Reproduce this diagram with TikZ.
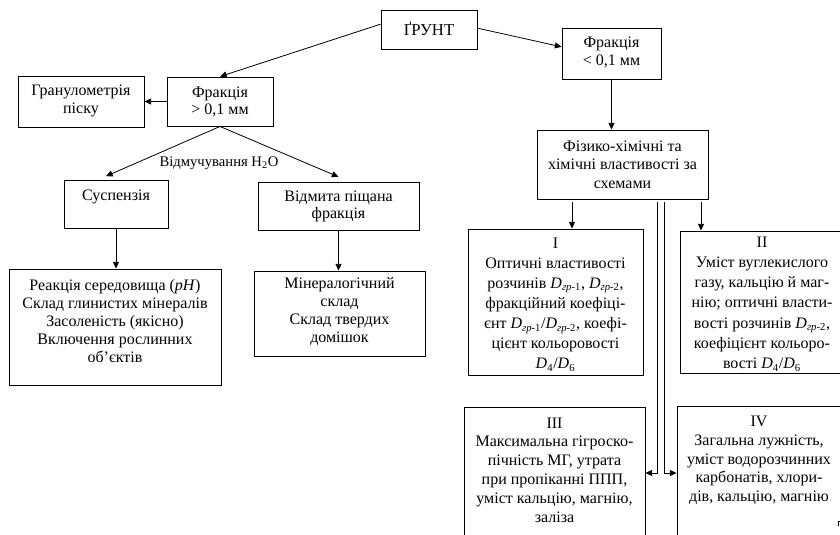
\documentclass[tikz,border=0pt]{standalone}
\usepackage{fontspec}
\setmainfont{Liberation Serif}
\usetikzlibrary{arrows.meta,fit,calc}
\newcommand{\Dg}[1]{\textit{D}\textsubscript{\textit{гр}-#1}}
\begin{document}
\begin{tikzpicture}[x=0.75pt,y=-0.75pt,
  box/.style={draw, line width=0.7pt, inner sep=0pt},
  txt/.style={align=center, inner sep=0pt, font=\fontsize{12}{13.5}\selectfont},
  arr/.style={line width=0.6pt, -{Triangle[length=5pt,width=4.5pt]}},
  ln/.style={line width=0.6pt}]
\useasboundingbox (0,0) rectangle (840,535);
\clip (0,0) rectangle (840,535);
% boxes
\node[box, fit={(381,10) (477,49)}] (grunt) {};
\node[box, fit={(167,77) (273,126)}] (f1) {};
\node[box, fit={(18,76) (144,127)}] (gran) {};
\node[box, fit={(64,180) (168,228)}] (susp) {};
\node[box, fit={(258,182) (419,230)}] (vidm) {};
\node[box, fit={(9,269) (221,385)}] (reak) {};
\node[box, fit={(254,271) (425,356)}] (miner) {};
\node[box, fit={(562,28) (661,79)}] (f2) {};
\node[box, fit={(537,130) (708,199)}] (fiz) {};
\node[box, fit={(468,229) (643,375)}] (b1) {};
\node[box, fit={(680,231) (844,373)}] (b2) {};
\node[box, fit={(464,407) (645,539)}] (b3) {};
\node[box, fit={(677,406) (842,540)}] (b4) {};
% texts
\node[txt, font=\fontsize{12.5}{14}\selectfont] (tgrunt) at (429,29) {ҐРУНТ};
\node[txt, font=\fontsize{12}{12.75}\selectfont] (tf1) at (220,101.5) {Фракція\\> 0,1 мм};
\node[txt] (tgran) at (81,101) {Гранулометрія\\піску};
\node[txt] (tsusp) at (116,197) {Суспензія};
\node[txt, font=\fontsize{12}{12.75}\selectfont] (tvidm) at (338.5,206.5) {Відмита піщана\\фракція};
\node[txt] (treak) at (115,321) {Реакція середовища (\textit{pH})\\Склад глинистих мінералів\\Засоленість (якісно)\\Включення рослинних\\об’єктів};
\node[txt] (tminer) at (339.5,312) {Мінералогічний\\склад\\Склад твердих\\домішок};
\node[txt, font=\fontsize{12}{13.75}\selectfont] (tf2) at (611.5,52.5) {Фракція\\< 0,1 мм};
\node[txt, font=\fontsize{12}{13.9}\selectfont] (tfiz) at (622.5,164.5) {Фізико-хімічні та\\хімічні властивості за\\схемами};
\node[txt, font=\fontsize{12}{15.1}\selectfont] (tb1) at (555.5,304.5) {I\\Оптичні властивості\\розчинів \Dg{1}, \Dg{2},\\фракційний коефіці-\\єнт \Dg{1}/\Dg{2}, коефі-\\цієнт кольоровості\\\textit{D}\textsubscript{4}/\textit{D}\textsubscript{6}};
\node[txt, font=\fontsize{12}{15.2}\selectfont] (tb2) at (762,304) {II\\Уміст вуглекислого\\газу, кальцію й маг-\\нію; оптичні власти-\\вості розчинів \Dg{2},\\коефіцієнт кольоро-\\вості \textit{D}\textsubscript{4}/\textit{D}\textsubscript{6}};
\node[txt, font=\fontsize{12}{14.1}\selectfont] (tb3) at (554.5,470) {III\\Максимальна гігроско-\\пічність МГ, утрата\\при пропіканні ППП,\\уміст кальцію, магнію,\\заліза};
\node[txt, font=\fontsize{12}{14.1}\selectfont] (tb4) at (759,460.5) {IV\\Загальна лужність,\\уміст водорозчинних\\карбонатів, хлори-\\дів, кальцію, магнію};
\node[inner sep=0pt, font=\fontsize{11}{13}\selectfont] (lbl) at (219,163) {Відмучування H\textsubscript{2}O};
% connectors
\draw[arr] ([yshift=4pt]grunt.west) -- (f1.north);
\draw[arr] ([yshift=1pt]grunt.east) -- ([yshift=5pt]f2.west);
\draw[arr] (f1.west) -- (gran.east);
\draw[arr] (f1.south) -- ([xshift=-7.5pt,yshift=2.5pt]susp.north);
\draw[arr] (f1.south) -- ([yshift=3.5pt]vidm.north);
\draw[arr] (susp.south) -- (susp.south |- reak.north);
\draw[arr] (vidm.south) -- (vidm.south |- miner.north);
\draw[arr] (f2.south) -- (f2.south |- fiz.north);
\coordinate (s1) at (572,202);
\coordinate (s2) at (701,202);
\coordinate (s3) at (657,202);
\coordinate (s4) at (664,202);
\draw[arr] (s1) -- (s1 |- b1.north);
\draw[arr] (s2) -- (s2 |- b2.north);
\draw[arr] (s3) |- (b3.east);
\draw[arr] (s4) |- (b4.west);
\coordinate (m1) at (838,526);
\draw[ln] (m1) -- ++(0,-5) -- ++(4,0);
\end{tikzpicture}
\end{document}
